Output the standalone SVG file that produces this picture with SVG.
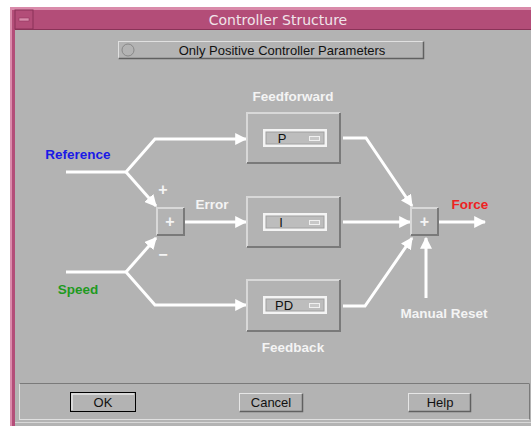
<svg xmlns="http://www.w3.org/2000/svg" width="531" height="426" viewBox="0 0 531 426">
<defs>
<style>
.bg{fill:#b3b3b3}
.lbl{font-family:"Liberation Sans",Arial,sans-serif;font-size:13.5px;font-weight:bold;fill:#f4f4f4}
.ui{font-family:"Liberation Sans",Arial,sans-serif;font-size:13px;fill:#111}
.wire{fill:none;stroke:#ffffff;stroke-width:3;stroke-linejoin:miter}
.hi{stroke:#d8d8d8;stroke-width:2;fill:none}
.lo{stroke:#7a7a7a;stroke-width:2;fill:none}
</style>
<marker id="ah" viewBox="0 0 10 10" refX="9" refY="5" markerWidth="4" markerHeight="4" orient="auto" markerUnits="strokeWidth">
<path d="M0,0 L10,5 L0,10 z" fill="#ffffff"/>
</marker>
</defs>
<rect x="0" y="0" width="531" height="426" fill="#ffffff"/>
<rect x="10" y="7" width="521" height="419" fill="#b34d78"/>
<rect x="10" y="7" width="521" height="3" fill="#d98aaa"/>
<rect x="10" y="7" width="2" height="419" fill="#d98aaa"/>
<rect x="15" y="30" width="516" height="396" class="bg"/>
<g id="titlebar">
<rect x="15" y="10" width="18" height="19" fill="#b34d78" stroke="#8a3358" stroke-width="1"/>
<rect x="19" y="18" width="10" height="3" fill="#d98aaa" stroke="#8a3358" stroke-width="0.5"/>
<line x1="15" y1="29.5" x2="531" y2="29.5" stroke="#8a3358" stroke-width="1"/>
<text x="278" y="25" text-anchor="middle" font-family="'DejaVu Sans',sans-serif" font-size="14" fill="#f0e4ea">Controller Structure</text>
</g>
<g id="toggle">
<rect x="118.5" y="41.5" width="305" height="17" fill="#b3b3b3" stroke="#e0e0e0" stroke-width="1"/>
<path d="M423.5,41.5 V58.5 H118.5" stroke="#606060" stroke-width="1.5" fill="none"/>
<circle cx="128" cy="50" r="6" fill="none" stroke="#888" stroke-width="1"/>
<text x="282" y="55" text-anchor="middle" class="ui" style="font-size:13px">Only Positive Controller Parameters</text>
</g>
<g id="connectors">
<polyline class="wire" points="66,172 126,172 155,139 246,139" marker-end="url(#ah)"/>
<polyline class="wire" points="126,172 156,206" marker-end="url(#ah)"/>
<polyline class="wire" points="66,272 126,272 155,305 246,305" marker-end="url(#ah)"/>
<polyline class="wire" points="126,272 156,238" marker-end="url(#ah)"/>
<polyline class="wire" points="185,222 246,222" marker-end="url(#ah)"/>
<polyline class="wire" points="343,138 366,138 412,206" marker-end="url(#ah)"/>
<polyline class="wire" points="343,222 410,222" marker-end="url(#ah)"/>
<polyline class="wire" points="343,306 365,306 412,238" marker-end="url(#ah)"/>
<polyline class="wire" points="439,222 485,222" marker-end="url(#ah)"/>
<polyline class="wire" points="426,298 426,238" marker-end="url(#ah)"/>
</g>
<g id="sum1">
<rect x="157" y="208" width="27" height="27" fill="#b3b3b3"/>
<path d="M157,235 V208 H184" class="hi"/>
<path d="M184,208 V235 H157" class="lo"/>
<text x="170" y="227" text-anchor="middle" class="lbl" style="font-size:16px">+</text>
</g>
<text x="163" y="195" text-anchor="middle" class="lbl" style="font-size:16px">+</text>
<text x="163" y="260" text-anchor="middle" class="lbl" style="font-size:16px">−</text>
<g id="sum2">
<rect x="411" y="208" width="27" height="27" fill="#b3b3b3"/>
<path d="M411,235 V208 H438" class="hi"/>
<path d="M438,208 V235 H411" class="lo"/>
<text x="424.5" y="227" text-anchor="middle" class="lbl" style="font-size:16px">+</text>
</g>
<g id="blockP">
<rect x="247" y="113" width="93" height="50" fill="#b3b3b3"/>
<path d="M247,163 V113 H340" class="hi"/>
<path d="M340,113 V163 H247" class="lo"/>
<rect x="263" y="129" width="64" height="18" fill="#f4f4f4"/>
<rect x="266" y="132" width="58" height="12" fill="#bdbdbd" stroke="#a0a0a0" stroke-width="1"/>
<rect x="309.5" y="136.5" width="10" height="4" fill="#c8c8c8" stroke="#f0f0f0" stroke-width="1"/>
<text x="282" y="143" text-anchor="middle" class="ui">P</text>
</g>
<g id="blockI">
<rect x="247" y="197" width="93" height="50" fill="#b3b3b3"/>
<path d="M247,247 V197 H340" class="hi"/>
<path d="M340,197 V247 H247" class="lo"/>
<rect x="263" y="213" width="64" height="18" fill="#f4f4f4"/>
<rect x="266" y="216" width="58" height="12" fill="#bdbdbd" stroke="#a0a0a0" stroke-width="1"/>
<rect x="309.5" y="220.5" width="10" height="4" fill="#c8c8c8" stroke="#f0f0f0" stroke-width="1"/>
<text x="281" y="227" text-anchor="middle" class="ui">I</text>
</g>
<g id="blockPD">
<rect x="247" y="280" width="93" height="51" fill="#b3b3b3"/>
<path d="M247,331 V280 H340" class="hi"/>
<path d="M340,280 V331 H247" class="lo"/>
<rect x="263" y="296" width="64" height="18" fill="#f4f4f4"/>
<rect x="266" y="299" width="58" height="12" fill="#bdbdbd" stroke="#a0a0a0" stroke-width="1"/>
<rect x="309.5" y="303.5" width="10" height="4" fill="#c8c8c8" stroke="#f0f0f0" stroke-width="1"/>
<text x="284" y="310" text-anchor="middle" class="ui">PD</text>
</g>
<text x="293" y="101" text-anchor="middle" class="lbl">Feedforward</text>
<text x="293" y="352" text-anchor="middle" class="lbl">Feedback</text>
<text x="212" y="209" text-anchor="middle" class="lbl">Error</text>
<text x="444" y="318" text-anchor="middle" class="lbl">Manual Reset</text>
<text x="78" y="159" text-anchor="middle" class="lbl" style="fill:#1a1ae6">Reference</text>
<text x="78" y="294" text-anchor="middle" class="lbl" style="fill:#1f9a1f">Speed</text>
<text x="470" y="209" text-anchor="middle" class="lbl" style="fill:#ee2222">Force</text>
<g id="buttons">
<rect x="19.5" y="383.5" width="510" height="36" fill="none" stroke="#e0e0e0" stroke-width="1"/>
<path d="M19.5,383.5 H529.5 V419.5" fill="none" stroke="#7a7a7a" stroke-width="1"/>
<line x1="15" y1="422.5" x2="531" y2="422.5" stroke="#d8d8d8" stroke-width="1"/>
<g id="ok">
<rect x="70.5" y="392.5" width="65" height="19" fill="#b3b3b3" stroke="#000" stroke-width="1"/>
<path d="M72,410 V394 H134" stroke="#e6e6e6" stroke-width="1.5" fill="none"/>
<text x="103" y="407" text-anchor="middle" class="ui">OK</text>
</g>
<g id="cancel">
<rect x="239.5" y="393.5" width="63" height="18" fill="#b3b3b3" stroke="#e6e6e6" stroke-width="1"/>
<path d="M302.5,393.5 V411.5 H239.5" stroke="#606060" stroke-width="1.5" fill="none"/>
<text x="271" y="407" text-anchor="middle" class="ui">Cancel</text>
</g>
<g id="help">
<rect x="408.5" y="393.5" width="62" height="18" fill="#b3b3b3" stroke="#e6e6e6" stroke-width="1"/>
<path d="M470.5,393.5 V411.5 H408.5" stroke="#606060" stroke-width="1.5" fill="none"/>
<text x="440" y="407" text-anchor="middle" class="ui">Help</text>
</g>
</g>
</svg>
